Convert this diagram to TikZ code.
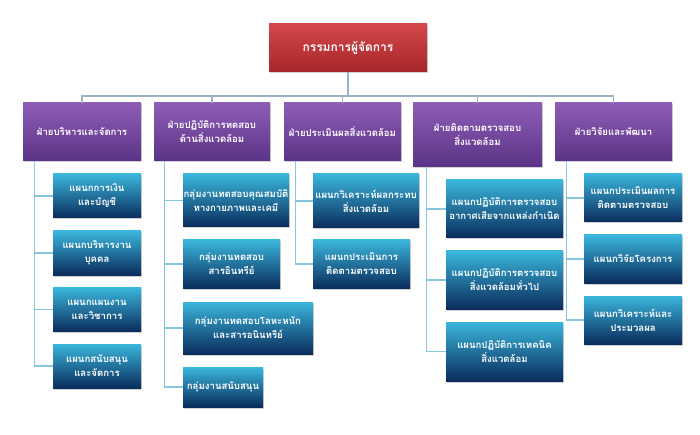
\documentclass[tikz,border=0pt]{standalone}
\usepackage{fontspec}
\newfontfamily\thaifont[Script=Thai]{Loma}
\usetikzlibrary{shadows}
\definecolor{redtop}{HTML}{D4484B}
\definecolor{redbot}{HTML}{A52629}
\definecolor{purtop}{HTML}{8E5DB6}
\definecolor{purbot}{HTML}{5A3386}
\definecolor{blutop}{HTML}{3AB6DC}
\definecolor{blumid}{HTML}{1C7DB0}
\definecolor{blubot}{HTML}{0A2C5C}
\definecolor{buscol}{HTML}{9DB2C8}
\definecolor{brcol}{HTML}{86C6DE}
\tikzset{
  box/.style={draw=none, inner xsep=0pt, inner ysep=2pt, align=center, text=white,
    font=\thaifont\bfseries\fontsize{9.6}{14}\selectfont,
    drop shadow={opacity=0.35, shadow xshift=1.2pt, shadow yshift=-1.5pt}},
  topbox/.style={box, top color=redtop, bottom color=redbot, font=\thaifont\bfseries\fontsize{12}{14}\selectfont},
  divbox/.style={box, top color=purtop, bottom color=purbot},
  unitbox/.style={box, top color=blutop, middle color=blutop!70!blumid, bottom color=blubot},
  bus/.style={draw=buscol, line width=1.1pt},
  branch/.style={draw=brcol, line width=1.1pt},
}
\newcommand{\bx}[6]{\node[#1, minimum width=#4pt, minimum height=#5pt] (#2) at (#3) {#6};}
\begin{document}
\begin{tikzpicture}[x=1pt,y=-1pt]
\useasboundingbox[fill=white] (0,0) rectangle (700,435);
% top
\bx{topbox}{top}{348,48}{158}{48}{กรรมการผู้จัดการ}
% divisions
\bx{divbox}{d1}{82,132}{118}{58}{ฝ่ายบริหารและจัดการ}
\bx{divbox}{d2}{212,132}{116}{58}{ฝ่ายปฏิบัติการทดสอบ\\ด้านสิ่งแวดล้อม}
\bx{divbox}{d3}{342.5,132}{117}{58}{ฝ่ายประเมินผลสิ่งแวดล้อม}
\bx{divbox}{d4}{477.5,135}{129}{64}{ฝ่ายติดตามตรวจสอบ\\สิ่งแวดล้อม}
\bx{divbox}{d5}{613.5,132}{117}{58}{ฝ่ายวิจัยและพัฒนา}
% col 1
\bx{unitbox}{a1}{97,196}{88}{44}{แผนกการเงิน\\และบัญชี}
\bx{unitbox}{a2}{97,253}{88}{44}{แผนกบริหารงาน\\บุคคล}
\bx{unitbox}{a3}{97,309.5}{88}{44}{แผนกแผนงาน\\และวิชาการ}
\bx{unitbox}{a4}{97,366}{88}{44}{แผนกสนับสนุน\\และจัดการ}
% col 2
\bx{unitbox}{b1}{236,200.5}{106}{53}{กลุ่มงานทดสอบคุณสมบัติ\\ทางกายภาพและเคมี}
\bx{unitbox}{b2}{231.5,264}{97}{48}{กลุ่มงานทดสอบ\\สารอินทรีย์}
\bx{unitbox}{b3}{248,328}{130}{52}{กลุ่มงานทดสอบโลหะหนัก\\และสารอนินทรีย์}
\bx{unitbox}{b4}{223,387}{80}{40}{กลุ่มงานสนับสนุน}
% col 3
\bx{unitbox}{c1}{366,201}{106}{54}{แผนกวิเคราะห์ผลกระทบ\\สิ่งแวดล้อม}
\bx{unitbox}{c2}{361.5,264}{97}{48}{แผนกประเมินการ\\ติดตามตรวจสอบ}
% col 4
\bx{unitbox}{e1}{504.5,209}{117}{58}{แผนกปฏิบัติการตรวจสอบ\\อากาศเสียจากแหล่งกำเนิด}
\bx{unitbox}{e2}{504.5,280}{117}{58}{แผนกปฏิบัติการตรวจสอบ\\สิ่งแวดล้อมทั่วไป}
\bx{unitbox}{e3}{504.5,351.5}{117}{59}{แผนกปฏิบัติการเทคนิค\\สิ่งแวดล้อม}
% col 5
\bx{unitbox}{f1}{633,198}{98}{48}{แผนกประเมินผลการ\\ติดตามตรวจสอบ}
\bx{unitbox}{f2}{633,259}{98}{48}{แผนกวิจัยโครงการ}
\bx{unitbox}{f3}{633,320}{98}{48}{แผนกวิเคราะห์และ\\ประมวลผล}
% connectors
\coordinate (bus) at (348,96);
\draw[bus] (top.south) -- (bus);
\foreach \d in {d1,d2,d3,d4,d5} \draw[bus] (\d.north) |- (bus);
\foreach \c in {a1,a2,a3,a4} \draw[branch] ([xshift=12pt]d1.south west) |- (\c.west);
\foreach \c in {b1,b2,b3,b4} \draw[branch] ([xshift=11pt]d2.south west) |- (\c.west);
\foreach \c in {c1,c2} \draw[branch] ([xshift=12pt]d3.south west) |- (\c.west);
\foreach \c in {e1,e2,e3} \draw[branch] ([xshift=14pt]d4.south west) |- (\c.west);
\foreach \c in {f1,f2,f3} \draw[branch] ([xshift=12pt]d5.south west) |- (\c.west);
\end{tikzpicture}
\end{document}
